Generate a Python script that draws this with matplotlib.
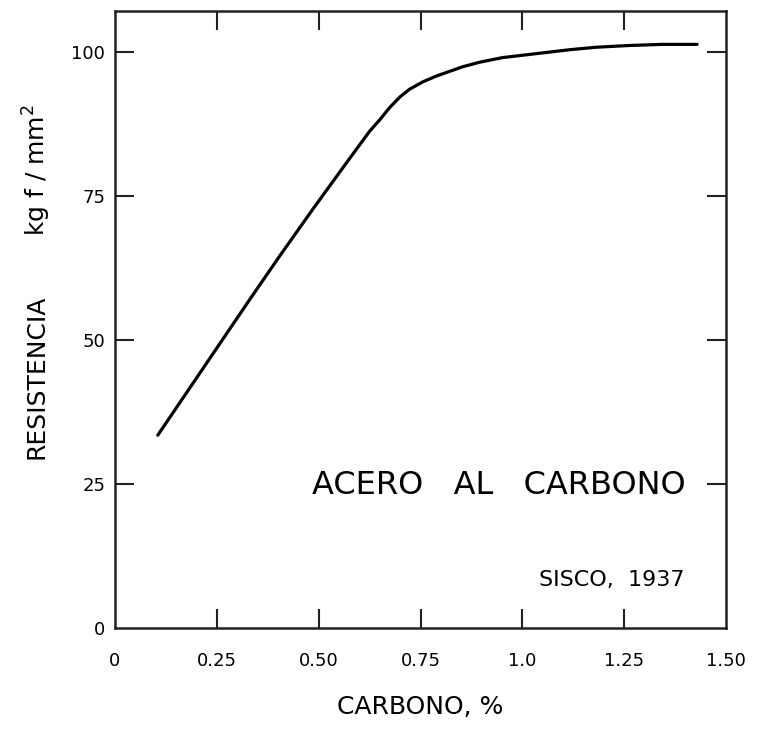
import matplotlib
matplotlib.use("Agg")
import matplotlib.pyplot as plt

carbono = [0.105, 0.331, 0.404, 0.485, 0.569, 0.625, 0.650, 0.674, 0.700,
           0.723, 0.756, 0.789, 0.853, 0.895, 0.951, 1.059, 1.120, 1.181,
           1.260, 1.343, 1.429]
resistencia = [33.5, 57.1, 64.6, 72.7, 80.9, 86.3, 88.3, 90.4, 92.3,
               93.6, 94.9, 95.9, 97.5, 98.3, 99.1, 100.0, 100.5, 100.9,
               101.2, 101.4, 101.4]

xticks = [0, 0.25, 0.50, 0.75, 1.0, 1.25, 1.50]
xticklabels = ["0", "0.25", "0.50", "0.75", "1.0", "1.25", "1.50"]
yticks = [0, 25, 50, 75, 100]
yticklabels = ["0", "25", "50", "75", "100"]

plt.rcParams['font.family'] = ['DejaVu Sans']

W, H = 759, 729
fig = plt.figure(figsize=(W / 100, H / 100), dpi=100)
ax = fig.add_axes([115 / W, 1 - 628 / H, (726 - 115) / W, (628 - 11) / H])

ax.plot(carbono, resistencia, color='black', lw=2.3,
        solid_capstyle='round', solid_joinstyle='round')

ax.set_xlim(0, 1.5)
ax.set_ylim(0, 107.2)
ax.set_xticks(xticks)
ax.set_xticklabels(xticklabels)
ax.set_yticks(yticks)
ax.set_yticklabels(yticklabels)

ax.tick_params(direction='in', length=14, width=1.5, top=True, right=True,
               labelsize=13, color='#222222')
ax.tick_params(axis='x', pad=17)
ax.tick_params(axis='y', pad=7)
for s in ax.spines.values():
    s.set_linewidth(1.8)
    s.set_color('#222222')

# hide tick marks that coincide with the frame corners
xt = ax.xaxis.get_major_ticks()
for t in (xt[0], xt[-1]):
    t.tick1line.set_visible(False)
    t.tick2line.set_visible(False)
yt = ax.yaxis.get_major_ticks()
yt[0].tick1line.set_visible(False)
yt[0].tick2line.set_visible(False)

ax.set_xlabel("CARBONO, %", fontsize=18, labelpad=18)

fig.text(37 / W, 1 - 377 / H, "RESISTENCIA", rotation=90, fontsize=18,
         ha='center', va='center')
fig.text(37 / W, 1 - 170 / H, "kg f / mm$^2$", rotation=90, fontsize=18,
         ha='center', va='center')

fig.text(499 / W, 1 - 486 / H, "ACERO   AL   CARBONO", fontsize=23,
         ha='center', va='center')
fig.text(612 / W, 1 - 580 / H, "SISCO,  1937", fontsize=16,
         ha='center', va='center')

fig.savefig("out.png", dpi=100)
